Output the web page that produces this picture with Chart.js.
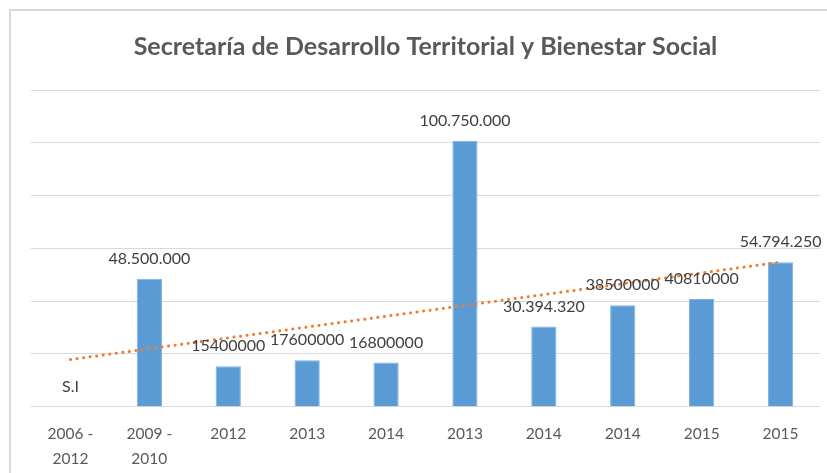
<!DOCTYPE html>
<html>
<head>
<meta charset="utf-8">
<script src="https://cdn.jsdelivr.net/npm/chart.js@4/dist/chart.umd.min.js"></script>
<style>
  html, body { margin: 0; padding: 0; background: #fff; overflow: hidden; }
  #wrap { position: relative; width: 827px; height: 473px; overflow: hidden; }
  #frame { position: absolute; left: 9px; top: 9px; width: 900px; height: 600px;
           border-top: 2px solid #d9d9d9; border-left: 2px solid #d9d9d9; box-sizing: border-box; }
  canvas { position: absolute; left: 0; top: 0; }
</style>
</head>
<body>
<div id="wrap">
  <div id="frame"></div>
  <canvas id="c" width="827" height="489"></canvas>
</div>
<script>
const categories = [['2006 -', '2012'], ['2009 -', '2010'], '2012', '2013', '2014', '2013', '2014', '2014', '2015', '2015'];
const amounts = [null, 48500000, 15400000, 17600000, 16800000, 100750000, 30394320, 38500000, 40810000, 54794250];
const valueLabels = ['S.I', '48.500.000', '15400000', '17600000', '16800000', '100.750.000', '30.394.320', '38500000', '40810000', '54.794.250'];
const trendStart = 17900000;
const trendEnd = 54800000;
const yMax = 120000000;
const yStep = 20000000;

const trendData = categories.map((_, i) => i === 0 ? trendStart : (i === categories.length - 1 ? trendEnd : null));

const labelPlugin = {
  id: 'valueLabels',
  afterDatasetsDraw(chart) {
    const ctx = chart.ctx;
    const meta = chart.getDatasetMeta(0);
    const yScale = chart.scales.y;
    ctx.save();
    ctx.font = '16px Lato, "Open Sans", sans-serif';
    ctx.fillStyle = '#404040';
    ctx.textAlign = 'center';
    ctx.textBaseline = 'middle';
    meta.data.forEach((bar, i) => {
      const v = amounts[i];
      const top = yScale.getPixelForValue(v == null ? 0 : v);
      ctx.fillText(valueLabels[i], bar.x, top - 20);
    });
    ctx.restore();
  }
};

new Chart(document.getElementById('c'), {
  data: {
    labels: categories,
    datasets: [
      {
        type: 'bar',
        data: amounts,
        backgroundColor: '#5B9BD5',
        borderColor: '#7FB0DE',
        borderWidth: 1,
        categoryPercentage: 1,
        barPercentage: 0.32,
        order: 2
      },
      {
        type: 'line',
        data: trendData,
        spanGaps: true,
        borderColor: '#ED7D31',
        borderWidth: 3,
        borderDash: [0.1, 6.5],
        borderCapStyle: 'round',
        pointRadius: 0,
        fill: false,
        order: 1
      }
    ]
  },
  options: {
    responsive: false,
    animation: false,
    layout: { padding: { left: 31, right: 7, top: 0, bottom: 2 } },
    plugins: {
      legend: { display: false },
      tooltip: { enabled: false },
      title: {
        display: true,
        text: 'Secretaría de Desarrollo Territorial y Bienestar Social',
        color: '#595959',
        font: { family: 'Lato, "Open Sans", sans-serif', size: 25, weight: 'bold' },
        padding: { top: 32, bottom: 28 }
      }
    },
    scales: {
      x: {
        grid: { display: false, drawTicks: false },
        border: { display: false },
        ticks: {
          color: '#595959',
          font: { family: 'Lato, "Open Sans", sans-serif', size: 15.5, lineHeight: 1.62 },
          padding: 15,
          maxRotation: 0,
          autoSkip: false
        }
      },
      y: {
        min: 0,
        max: yMax,
        ticks: { display: false, stepSize: yStep },
        grid: { color: '#d9d9d9', lineWidth: 1, drawTicks: false },
        border: { display: false }
      }
    }
  },
  plugins: [labelPlugin]
});
</script>
</body>
</html>
